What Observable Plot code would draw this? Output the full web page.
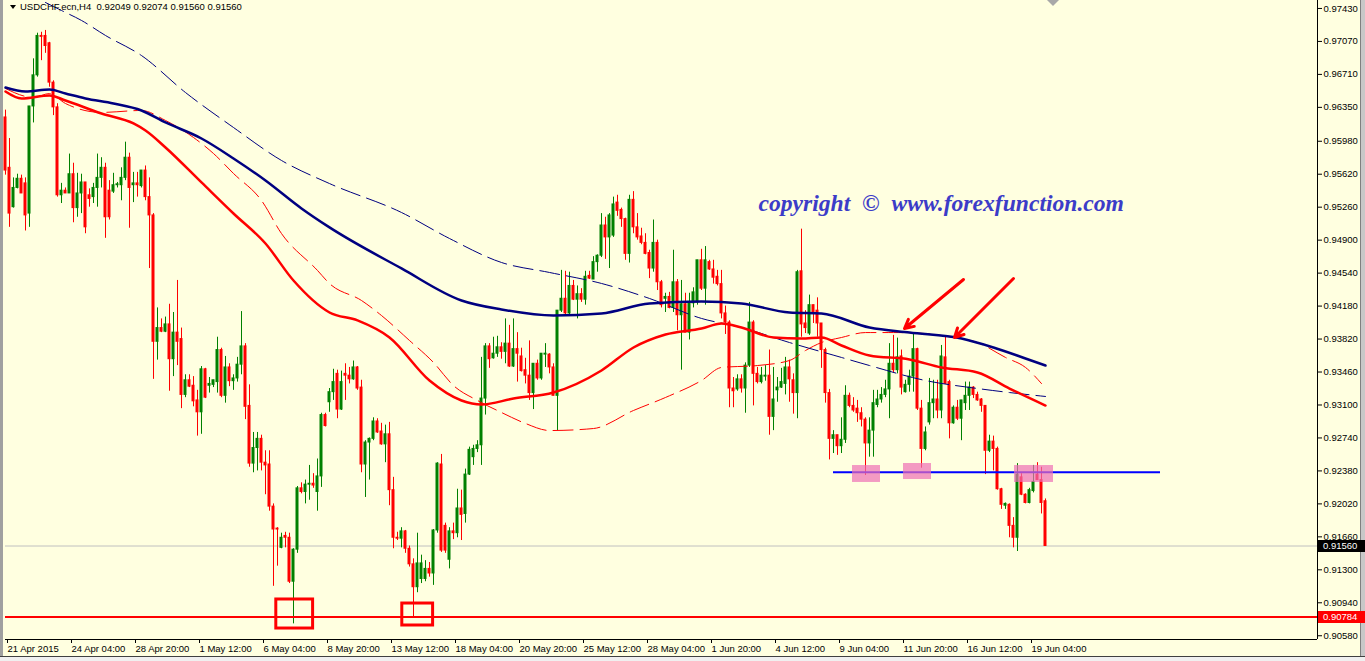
<!DOCTYPE html>
<html><head><meta charset="utf-8">
<script src="https://cdn.jsdelivr.net/npm/d3@7"></script>
<script src="https://cdn.jsdelivr.net/npm/@observablehq/plot@0.6"></script>
<style>
html,body{margin:0;padding:0;background:#ffffe0;}
#wrap{position:relative;width:1365px;height:661px;overflow:hidden;font-family:"Liberation Sans",Arial,sans-serif;}
.ov{position:absolute;box-sizing:border-box;}
.plabel{position:absolute;left:1318px;width:42px;height:12px;color:#fff;font-size:9.5px;line-height:12px;padding-left:5px;font-family:"Liberation Sans",Arial,sans-serif;}
</style></head><body><div id="wrap"></div>
<script>
// ---- chart values (USDCHF H4) ----
const symbolTitle = "USDCHF,ecn,H4";
const lastBar = ["0.92049","0.92074","0.91560","0.91560"];

const opens = [
.9624,.9569,.9526,.9547,.9557,.9552,.9519,.9636,.9670,.9713,
.9713,.9705,.9662,.9635,.9539,.9544,.9541,.9562,.9525,.9541,
.9553,.9539,.9537,.9547,.9558,.9569,.9544,.9543,.9550,.9550,
.9558,.9580,.9550,.9552,.9549,.9566,.9537,.9517,.9379,.9394,
.9390,.9398,.9360,.9389,.9382,.9321,.9337,.9331,.9315,.9302,
.9349,.9331,.9332,.9335,.9370,.9320,.9351,.9336,.9339,.9354,
.9374,.9309,.9246,.9263,.9273,.9247,.9245,.9199,.9175,.9154,
.9167,.9165,.9117,.9152,.9219,.9215,.9223,.9224,.9215,.9232,
.9299,.9313,.9324,.9344,.9305,.9344,.9342,.9338,.9351,.9329,
.9245,.9269,.9273,.9292,.9281,.9267,.9278,.9217,.9165,.9164,
.9172,.9153,.9136,.9111,.9120,.9120,.9131,.9126,.9173,.9245,
.9178,.9141,.9172,.9170,.9197,.9191,.9234,.9253,.9262,.9266,
.9317,.9374,.9361,.9366,.9373,.9368,.9377,.9352,.9371,.9363,
.9348,.9342,.9323,.9355,.9339,.9365,.9365,.9351,.9320,.9413,
.9426,.9410,.9440,.9425,.9431,.9425,.9451,.9447,.9466,.9473,
.9506,.9493,.9495,.9531,.9523,.9513,.9475,.9534,.9504,.9494,
.9487,.9476,.9459,.9487,.9444,.9426,.9428,.9416,.9444,.9408,
.9420,.9389,.9421,.9422,.9468,.9437,.9466,.9458,.9450,.9442,
.9410,.9400,.9328,.9327,.9338,.9328,.9353,.9400,.9344,.9335,
.9341,.9342,.9297,.9326,.9329,.9333,.9351,.9337,.9323,.9456,
.9399,.9388,.9419,.9413,.9399,.9370,.9323,.9273,.9277,.9265,
.9272,.9320,.9309,.9306,.9301,.9294,.9268,.9282,.9310,.9316,
.9321,.9327,.9355,.9348,.9363,.9324,.9332,.9341,.9371,.9306,
.9262,.9291,.9312,.9316,.9304,.9362,.9335,.9290,.9307,.9295,
.9312,.9320,.9329,.9321,.9316,.9309,.9260,.9270,.9262,.9218,
.9200,.9201,.9178,.9165,.9231,.9212,.9203,.9216,.9234,.9228,
.92049];
const highs = [
.9632,.9601,.9558,.9562,.9561,.9558,.9636,.9688,.9716,.9717,
.9719,.9706,.9664,.9639,.9552,.9547,.9584,.9574,.9563,.9562,
.9553,.9546,.9552,.9584,.9580,.9574,.9555,.9563,.9553,.9569,
.9597,.9585,.9564,.9564,.9566,.9571,.9558,.9519,.9416,.9404,
.9406,.9420,.9411,.9446,.9394,.9343,.9343,.9341,.9326,.9352,
.9350,.9340,.9337,.9384,.9372,.9363,.9355,.9343,.9362,.9412,
.9377,.9332,.9280,.9280,.9277,.9260,.9260,.9202,.9176,.9170,
.9171,.9170,.9153,.9221,.9225,.9228,.9244,.9235,.9251,.9301,
.9301,.9328,.9349,.9348,.9347,.9355,.9351,.9358,.9352,.9337,
.9271,.9274,.9296,.9295,.9290,.9288,.9291,.9231,.9171,.9176,
.9173,.9156,.9142,.9170,.9146,.9140,.9138,.9174,.9247,.9256,
.9181,.9176,.9181,.9218,.9217,.9240,.9264,.9266,.9271,.9362,
.9377,.9377,.9384,.9385,.9378,.9404,.9397,.9404,.9389,.9372,
.9361,.9380,.9355,.9359,.9366,.9377,.9366,.9355,.9413,.9457,
.9456,.9455,.9446,.9440,.9437,.9456,.9456,.9472,.9474,.9519,
.9515,.9519,.9537,.9539,.9525,.9514,.9539,.9543,.9519,.9503,
.9497,.9479,.9512,.9490,.9446,.9432,.9433,.9479,.9447,.9446,
.9432,.9432,.9438,.9468,.9480,.9483,.9468,.9468,.9457,.9457,
.9418,.9402,.9340,.9343,.9343,.9356,.9422,.9402,.9351,.9351,
.9353,.9370,.9351,.9340,.9350,.9362,.9359,.9344,.9457,.9502,
.9413,.9430,.9419,.9427,.9399,.9372,.9327,.9282,.9277,.9296,
.9331,.9323,.9318,.9315,.9307,.9296,.9296,.9326,.9326,.9329,
.9337,.9377,.9386,.9383,.9370,.9337,.9348,.9389,.9372,.9315,
.9286,.9339,.9337,.9337,.9375,.9384,.9337,.9309,.9315,.9315,
.9335,.9335,.9330,.9324,.9317,.9309,.9277,.9276,.9264,.9219,
.9203,.9202,.9187,.9246,.9235,.9213,.9219,.9244,.9247,.9242,
.92074];
const lows = [
.9561,.9504,.9525,.9546,.9541,.9500,.9504,.9618,.9668,.9686,
.9694,.9657,.9626,.9537,.9530,.9541,.9541,.9509,.9515,.9519,
.9497,.9526,.9530,.9526,.9547,.9492,.9512,.9541,.9547,.9533,
.9555,.9503,.9531,.9537,.9547,.9533,.9459,.9338,.9359,.9389,
.9389,.9325,.9341,.9353,.9306,.9318,.9329,.9308,.9276,.9278,
.9317,.9323,.9329,.9323,.9318,.9312,.9330,.9326,.9335,.9343,
.9294,.9242,.9236,.9238,.9238,.9212,.9194,.9112,.9134,.9153,
.9154,.9115,.9071,.9148,.9213,.9202,.9206,.9219,.9194,.9220,
.9286,.9302,.9315,.9295,.9304,.9315,.9333,.9337,.9326,.9236,
.9209,.9228,.9271,.9279,.9266,.9247,.9200,.9153,.9162,.9154,
.9148,.9133,.9079,.9105,.9115,.9117,.9122,.9113,.9170,.9149,
.9148,.9131,.9163,.9165,.9162,.9181,.9233,.9244,.9258,.9244,
.9299,.9350,.9360,.9362,.9360,.9355,.9351,.9351,.9335,.9346,
.9333,.9315,.9305,.9337,.9337,.9351,.9344,.9320,.9282,.9411,
.9408,.9408,.9424,.9404,.9422,.9419,.9447,.9447,.9455,.9471,
.9469,.9459,.9493,.9516,.9504,.9468,.9465,.9497,.9490,.9485,
.9474,.9448,.9455,.9435,.9416,.9411,.9415,.9411,.9391,.9348,
.9389,.9381,.9416,.9419,.9435,.9419,.9457,.9442,.9440,.9404,
.9387,.9307,.9307,.9325,.9323,.9301,.9351,.9309,.9333,.9333,
.9336,.9277,.9282,.9313,.9328,.9321,.9313,.9300,.9295,.9384,
.9388,.9386,.9399,.9384,.9350,.9312,.9250,.9257,.9255,.9257,
.9268,.9307,.9302,.9291,.9286,.9233,.9253,.9253,.9307,.9312,
.9318,.9295,.9345,.9344,.9321,.9323,.9324,.9324,.9304,.9241,
.9260,.9288,.9295,.9295,.9295,.9333,.9273,.9289,.9293,.9271,
.9304,.9304,.9317,.9314,.9302,.9234,.9258,.9238,.9217,.9196,
.9196,.9165,.9154,.9150,.9211,.9202,.9202,.9214,.9228,.9191,
.9156];
const closes = [
.9566,.9519,.9547,.9557,.9541,.9517,.9636,.9670,.9713,.9712,
.9702,.9662,.9635,.9539,.9544,.9541,.9562,.9525,.9541,.9553,
.9504,.9535,.9547,.9558,.9569,.9515,.9515,.9550,.9551,.9558,
.9580,.9547,.9552,.9550,.9566,.9537,.9517,.9379,.9394,.9390,
.9398,.9360,.9389,.9379,.9321,.9337,.9330,.9314,.9302,.9349,
.9318,.9333,.9337,.9370,.9320,.9351,.9336,.9339,.9354,.9374,
.9308,.9246,.9263,.9273,.9247,.9244,.9199,.9174,.9174,.9165,
.9165,.9117,.9152,.9219,.9215,.9223,.9224,.9222,.9232,.9299,
.9287,.9324,.9335,.9305,.9335,.9342,.9338,.9351,.9328,.9245,
.9269,.9273,.9292,.9280,.9267,.9278,.9217,.9165,.9164,.9172,
.9153,.9136,.9111,.9137,.9137,.9131,.9126,.9173,.9246,.9151,
.9151,.9172,.9170,.9197,.9190,.9234,.9261,.9262,.9266,.9317,
.9374,.9360,.9366,.9373,.9368,.9377,.9352,.9371,.9366,.9347,
.9342,.9323,.9355,.9339,.9366,.9366,.9351,.9320,.9413,.9426,
.9410,.9440,.9425,.9431,.9425,.9450,.9448,.9466,.9473,.9506,
.9493,.9517,.9529,.9522,.9513,.9475,.9534,.9504,.9493,.9487,
.9475,.9459,.9487,.9444,.9419,.9428,.9416,.9444,.9408,.9420,
.9389,.9421,.9433,.9468,.9437,.9468,.9458,.9449,.9442,.9410,
.9400,.9328,.9325,.9338,.9328,.9353,.9400,.9344,.9335,.9342,
.9342,.9297,.9316,.9329,.9335,.9351,.9338,.9323,.9455,.9398,
.9394,.9419,.9411,.9399,.9370,.9323,.9273,.9277,.9265,.9272,
.9320,.9309,.9304,.9301,.9294,.9268,.9282,.9312,.9316,.9321,
.9327,.9355,.9348,.9362,.9329,.9332,.9341,.9371,.9306,.9262,
.9280,.9312,.9316,.9304,.9363,.9333,.9290,.9307,.9295,.9315,
.9320,.9329,.9321,.9315,.9309,.9260,.9270,.9262,.9218,.9201,
.9202,.9178,.9165,.9234,.9212,.9203,.9217,.9226,.9228,.9203,
.9156];

// moving averages: bar index / value
const maNavyIdx = [0,5,11,15,20,27,34,40,49,57,65,74,81,99,114,124,137,149,161,174,184,196,204,216,226,239,247,255,260];
const maNavy = [.96567,.96523,.96545,.96501,.96447,.96392,.96316,.96185,.96010,.95792,.95551,.95246,.95039,.94591,.94241,.94143,.94077,.94099,.94208,.94230,.94208,.94110,.94099,.93946,.93891,.93826,.93728,.93608,.93531];
const maNavyDashIdx = [10,14,19,25,34,45,57,69,81,99,111,124,136,149,161,174,184,196,209,216,230,243,251,260];
const maNavyDash = [.97495,.97408,.97299,.97135,.96916,.96512,.96130,.95770,.95518,.95202,.94918,.94656,.94547,.94427,.94263,.94045,.93946,.93782,.93619,.93531,.93367,.93280,.93236,.93193];
const maRedIdx = [0,4,11,15,24,32,35,40,49,57,65,72,81,88,96,106,114,119,127,137,149,157,165,174,179,184,192,199,204,209,216,226,234,243,251,260];
const maRed = [.96523,.96447,.96480,.96425,.96283,.96174,.96097,.95912,.95530,.95191,.94863,.94459,.94110,.94023,.93837,.93367,.93149,.93105,.93171,.93236,.93477,.93728,.93870,.93935,.93990,.93946,.93837,.93826,.93837,.93750,.93640,.93597,.93510,.93455,.93280,.93094];
const maRedDashIdx = [0,7,11,15,24,34,40,47,52,57,64,69,78,81,89,94,101,107,112,118,124,130,136,147,157,165,174,179,188,196,200,204,209,215,222,230,237,243,250,255,259];
const maRedDash = [.96556,.96458,.96501,.96392,.96295,.96316,.96207,.96021,.95846,.95628,.95333,.94972,.94569,.94426,.94241,.94077,.93804,.93564,.93312,.93149,.93018,.92898,.92821,.92843,.93040,.93182,.93367,.93510,.93531,.93586,.93695,.93782,.93837,.93891,.93891,.93880,.93837,.93782,.93619,.93510,.93334];

// axes
const yTicks = [0.97430,0.97070,0.96710,0.96350,0.95980,0.95620,0.95260,0.94900,0.94540,0.94180,0.93820,0.93460,0.93100,0.92740,0.92380,0.92020,0.91660,0.91300,0.90940,0.90580];
const xTickIdx = [0,16,32,48,64,80,96,112,128,144,160,176,192,208,224,240,256];
const xTickLabels = ["21 Apr 2015","24 Apr 04:00","28 Apr 20:00","1 May 12:00","6 May 04:00","8 May 20:00","13 May 12:00","18 May 04:00","20 May 20:00","25 May 12:00","28 May 04:00","1 Jun 20:00","4 Jun 12:00","9 Jun 04:00","11 Jun 20:00","16 Jun 12:00","19 Jun 04:00"];

// annotations
const supportLevel = 0.90784;
const currentPrice = 0.91560;
const neckLevel = 0.92365, neckFrom = 207, neckTo = 288.75;
const pinkX1 = [211.75,224.5,252.25], pinkX2 = [218.75,231.5,262], pinkLo = [.92254,.92286,.92254], pinkHi = [.92439,.92461,.92439];
const boxX1 = [67.7,99.2], boxX2 = [76.9,106.9], boxLo = [.90659,.90692], boxHi = [.90976,.90932];
const arrowFromX = [239.5,252], arrowFromY = [.94470,.94481], arrowToX = [224.75,237.25], arrowToY = [.93935,.93837];
const watermark = "copyright\u00a0\u00a0©\u00a0\u00a0www.forexfunction.com";
const watermarkAt = [188.25, 0.95300];

// ---- build ----
const xDomain = [0, 328];
const yDomain = [0.905391, 0.975170];
const bull = "#008000", bear = "#ff0000";
const candles = opens.map((o, i) => ({i, o, h: highs[i], l: lows[i], c: closes[i]}));
const series = (idx, vals) => idx.map((i, k) => ({i, v: vals[k]}));
const pink = pinkX1.map((x, k) => ({x1: x, x2: pinkX2[k], y1: pinkLo[k], y2: pinkHi[k]}));
const boxes = boxX1.map((x, k) => ({x1: x, x2: boxX2[k], y1: boxLo[k], y2: boxHi[k]}));
const arrows = arrowFromX.map((x, k) => ({x1: x, y1: arrowFromY[k], x2: arrowToX[k], y2: arrowToY[k]}));
const labelMap = new Map(xTickIdx.map((d, k) => [d, xTickLabels[k]]));

const chart = Plot.plot({
  width: 1365, height: 661,
  marginLeft: 5, marginRight: 48, marginTop: 0, marginBottom: 22,
  x: {domain: xDomain},
  y: {domain: yDomain},
  style: {background: "#ffffe0", fontFamily: "Liberation Sans, Arial, sans-serif", fontSize: "9.5px", color: "#000"},
  marks: [
    Plot.ruleY([currentPrice], {stroke: "#c0c0c0", strokeWidth: 1}),
    Plot.ruleX(candles, {x: "i", y1: "l", y2: "h", stroke: d => d.c >= d.o ? bull : bear, strokeWidth: 1}),
    Plot.rect(candles, {x1: d => d.i - 0.375, x2: d => d.i + 0.375, y1: d => Math.min(d.o, d.c), y2: d => Math.max(d.o, d.c), fill: d => d.c >= d.o ? bull : bear, insetTop: -0.5, insetBottom: -0.5}),
    Plot.line(series(maRedDashIdx, maRedDash), {x: "i", y: "v", stroke: "#ff0000", strokeWidth: 1, strokeDasharray: "20,7", curve: "monotone-x"}),
    Plot.line(series(maNavyDashIdx, maNavyDash), {x: "i", y: "v", stroke: "#000080", strokeWidth: 1, strokeDasharray: "20,7", curve: "monotone-x"}),
    Plot.line(series(maRedIdx, maRed), {x: "i", y: "v", stroke: "#ff0000", strokeWidth: 2.5, curve: "monotone-x"}),
    Plot.line(series(maNavyIdx, maNavy), {x: "i", y: "v", stroke: "#000080", strokeWidth: 2.5, curve: "monotone-x"}),
    Plot.ruleY([supportLevel], {stroke: "#ff0000", strokeWidth: 2}),
    Plot.rect(boxes, {x1: "x1", x2: "x2", y1: "y1", y2: "y2", fill: "none", stroke: "#ff0000", strokeWidth: 3}),
    Plot.ruleY([neckLevel], {x1: neckFrom, x2: neckTo, stroke: "#0000ff", strokeWidth: 2}),
    Plot.rect(pink, {x1: "x1", x2: "x2", y1: "y1", y2: "y2", fill: "#ee6fb5", fillOpacity: 0.7}),
    Plot.arrow(arrows, {x1: "x1", y1: "y1", x2: "x2", y2: "y2", stroke: "#ff0000", strokeWidth: 3, headLength: 5, headAngle: 55}),
    Plot.text([watermark], {x: watermarkAt[0], y: watermarkAt[1], text: d => d, textAnchor: "start", fontFamily: "Liberation Serif, DejaVu Serif, serif", fontWeight: "bold", fontStyle: "italic", fontSize: 23.6, fill: "#3c3cc8"}),
    Plot.ruleX([xDomain[1]], {stroke: "#000"}),
    Plot.ruleY([yDomain[0]], {stroke: "#000"}),
    Plot.axisY({anchor: "right", ticks: yTicks, tickFormat: d => d.toFixed(5), tickSize: 4, tickPadding: 2, label: null}),
    Plot.axisX({ticks: xTickIdx, tickFormat: d => labelMap.get(d), tickSize: 4, tickPadding: 2, textAnchor: "start", dx: 2, label: null})
  ]
});

const wrap = document.getElementById("wrap");
wrap.appendChild(chart);
const ys = chart.scale("y");

function ov(css) { const d = document.createElement("div"); d.className = "ov"; d.style.cssText = css; wrap.appendChild(d); return d; }
// frame pieces
ov("left:0;top:0;width:3px;height:661px;background:#a0a0a0;");
ov("left:1360px;top:0;width:5px;height:661px;background:#c8c8c8;border-left:1px solid #808080;");
ov("left:0;top:656px;width:1365px;height:5px;background:#f0f0f0;border-top:1px solid #404040;");
// chart shift marker
ov("left:1047px;top:0;width:0;height:0;border-left:6px solid transparent;border-right:6px solid transparent;border-top:6px solid #a8a8a8;");

// header
const hdr = document.createElement("div");
hdr.className = "ov";
hdr.style.cssText = "left:20px;top:0;font-size:9.5px;line-height:14px;white-space:pre;color:#000;font-family:'Liberation Sans',Arial,sans-serif;";
hdr.textContent = symbolTitle + "  " + lastBar.join(" ");
wrap.appendChild(hdr);
ov("left:10px;top:5px;width:0;height:0;border-left:3px solid transparent;border-right:3px solid transparent;border-top:4px solid #000;");

// price labels on the right scale
function priceLabel(p, bg) {
  const d = document.createElement("div");
  d.className = "plabel";
  d.style.top = (ys.apply(p) - 6) + "px";
  d.style.background = bg;
  d.textContent = p.toFixed(5);
  wrap.appendChild(d);
}
priceLabel(currentPrice, "#000");
priceLabel(supportLevel, "#ff0000");
</script></body></html>
